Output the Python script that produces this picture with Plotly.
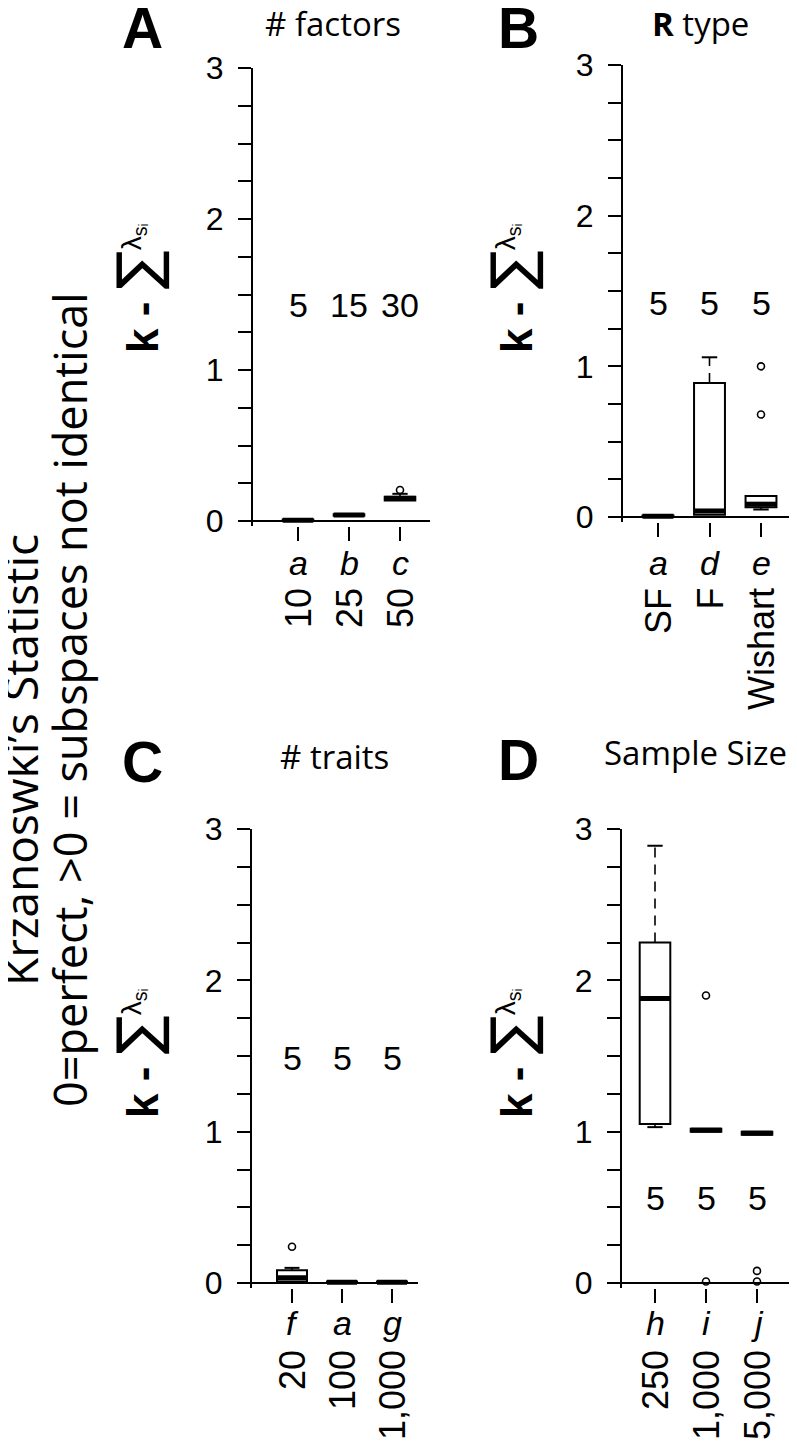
import plotly.graph_objects as go

W, H = 797, 1447
OFF = 8  # page body margin of the html page

# ---- data ----
panel_tags = ["A", "B", "C", "D"]
panel_titles = ["# factors", "<b>R</b> type", "# traits", "Sample Size"]

codes_a = ["a", "b", "c"]
levels_a = ["10", "25", "50"]
n_a = [5, 15, 30]
q1_a = [0.0, 0.035, 0.135]
med_a = [0.005, 0.04, 0.15]
q3_a = [0.01, 0.045, 0.16]
lo_a = [0.0, 0.035, 0.135]
hi_a = [0.01, 0.045, 0.18]
out_x_a = [3]
out_y_a = [0.205]

codes_b = ["a", "d", "e"]
levels_b = ["SF", "F", "Wishart"]
n_b = [5, 5, 5]
q1_b = [0.0, 0.015, 0.065]
med_b = [0.005, 0.04, 0.085]
q3_b = [0.01, 0.89, 0.14]
lo_b = [0.0, 0.015, 0.05]
hi_b = [0.01, 1.06, 0.14]
out_x_b = [3, 3]
out_y_b = [0.68, 1.00]

codes_c = ["f", "a", "g"]
levels_c = ["20", "100", "1,000"]
n_c = [5, 5, 5]
q1_c = [0.01, 0.0, 0.0]
med_c = [0.035, 0.005, 0.005]
q3_c = [0.085, 0.01, 0.01]
lo_c = [0.01, 0.0, 0.0]
hi_c = [0.10, 0.01, 0.01]
out_x_c = [1]
out_y_c = [0.24]

codes_d = ["h", "i", "j"]
levels_d = ["250", "1,000", "5,000"]
n_d = [5, 5, 5]
q1_d = [1.05, 1.0, 0.98]
med_d = [1.88, 1.01, 0.99]
q3_d = [2.25, 1.02, 1.0]
lo_d = [1.03, 1.0, 0.98]
hi_d = [2.89, 1.02, 1.0]
out_x_d = [2, 2, 3, 3]
out_y_d = [1.90, 0.01, 0.08, 0.01]

count_y = [1.43, 1.42, 1.49, 0.56]
y_ticks = [i * 0.25 for i in range(13)]

panels = [
    (codes_a, levels_a, n_a, q1_a, med_a, q3_a, lo_a, hi_a, out_x_a, out_y_a),
    (codes_b, levels_b, n_b, q1_b, med_b, q3_b, lo_b, hi_b, out_x_b, out_y_b),
    (codes_c, levels_c, n_c, q1_c, med_c, q3_c, lo_c, hi_c, out_x_c, out_y_c),
    (codes_d, levels_d, n_d, q1_d, med_d, q3_d, lo_d, hi_d, out_x_d, out_y_d),
]

# ---- layout geometry in screen pixels ----
# y-axis x, right end, first category x, spacing, y=0 px, y=3 px
geom = [
    (253, 430, 298, 51, 521, 68),
    (623, 792, 658, 51.5, 517, 65),
    (252, 418, 292, 50, 1283, 829),
    (622, 790, 655, 51, 1283, 829),
]
tag_pos = [(142, 28), (518, 28), (142, 762), (518, 760)]
title_pos = [(333, 23), (700, 24), (334, 756), (695, 752)]
ylab_pos = [(138, 288), (512, 288), (138, 1053), (512, 1053)]
code_y = [563, 563, 1323, 1323]
level_y = [586, 586, 1348, 1348]

SANS = "Liberation Sans, Arial, sans-serif"
MYR = "Open Sans, Noto Sans, sans-serif"
BW = 0.6


def fx(p):
    return (p - OFF) / W


def fy(p):
    return 1 - (p - OFF) / H


def note(text, x, y, size, family=SANS, angle=0, **kw):
    d = dict(text=text, x=x, y=y, xref="paper", yref="paper", showarrow=False,
             xanchor="center", yanchor="middle", textangle=angle,
             font=dict(family=family, size=size, color="black"))
    d.update(kw)
    return d


fig = go.Figure()
annotations = []
layout_axes = {}

for i, (codes, levels, ns, q1, med, q3, lo, hi, ox, oy) in enumerate(panels):
    s = "" if i == 0 else str(i + 1)
    xa, ya = "x" + s, "y" + s
    cats = [1, 2, 3]

    fig.add_trace(go.Box(
        x=cats, q1=q1, median=med, q3=q3, lowerfence=q1, upperfence=q3,
        width=BW, whiskerwidth=0, fillcolor="white",
        line=dict(color="black", width=2), boxpoints=False,
        xaxis=xa, yaxis=ya, showlegend=False, hoverinfo="skip"))

    # whiskers (dashed) and staples
    wx, wy, cx, cy = [], [], [], []
    for k, c in enumerate(cats):
        if hi[k] > q3[k]:
            wx += [c, c, None]; wy += [q3[k], hi[k], None]
            cx += [c - BW / 4, c + BW / 4, None]; cy += [hi[k], hi[k], None]
        if lo[k] < q1[k]:
            wx += [c, c, None]; wy += [q1[k], lo[k], None]
            cx += [c - BW / 4, c + BW / 4, None]; cy += [lo[k], lo[k], None]
    if wx:
        fig.add_trace(go.Scatter(x=wx, y=wy, mode="lines", xaxis=xa, yaxis=ya,
                                 line=dict(color="black", width=1.6, dash="10px,7px"),
                                 showlegend=False, hoverinfo="skip"))
        fig.add_trace(go.Scatter(x=cx, y=cy, mode="lines", xaxis=xa, yaxis=ya,
                                 line=dict(color="black", width=2),
                                 showlegend=False, hoverinfo="skip"))

    # thick medians
    mx, my = [], []
    for k, c in enumerate(cats):
        mx += [c - BW / 2, c + BW / 2, None]; my += [med[k], med[k], None]
    fig.add_trace(go.Scatter(x=mx, y=my, mode="lines", xaxis=xa, yaxis=ya,
                             line=dict(color="black", width=5),
                             showlegend=False, hoverinfo="skip"))

    fig.add_trace(go.Scatter(x=ox, y=oy, mode="markers", xaxis=xa, yaxis=ya,
                             marker=dict(symbol="circle-open", size=7, color="black",
                                         line=dict(width=1.6, color="black")),
                             cliponaxis=False, showlegend=False, hoverinfo="skip"))

    yx, right, c1, sp, y0, y3 = geom[i]
    xr = [1 - (c1 - yx) / sp, 3 + (right - (c1 + 2 * sp)) / sp]
    pxu = (y0 - y3) / 3
    ymin = -0.03
    bottom = y0 - ymin * pxu
    layout_axes["xaxis" + s] = dict(
        domain=[fx(yx), fx(right)], range=xr, anchor=ya, showline=False,
        showgrid=False, zeroline=False, ticks="outside", tickvals=cats,
        ticklen=14, tickwidth=2, tickcolor="black", showticklabels=False)
    layout_axes["yaxis" + s] = dict(
        domain=[fy(bottom), fy(y3)], range=[ymin, 3], anchor=xa,
        showline=True, linewidth=2, linecolor="black", showgrid=False,
        zeroline=True, zerolinewidth=2, zerolinecolor="black",
        ticks="outside", tickvals=y_ticks,
        ticktext=[str(int(v)) if v == int(v) else "" for v in y_ticks],
        ticklen=13, tickwidth=2, tickcolor="black", ticklabelstandoff=8,
        tickfont=dict(family=SANS, size=32, color="black"))

    tx, ty = tag_pos[i]
    annotations.append(note("<b>%s</b>" % panel_tags[i], fx(tx), fy(ty), 57))
    tx, ty = title_pos[i]
    annotations.append(note(panel_titles[i], fx(tx), fy(ty), 33, MYR))
    tx, ty = ylab_pos[i]
    annotations.append(note(
        "<b>k - </b><span style='font-family:DejaVu Sans;font-size:58px'>∑</span>"
        "<span style='font-size:40px'><sup>λ<sub>sᵢ</sub></sup></span>",
        fx(tx), fy(ty), 44, angle=-90))

    for k, c in enumerate(cats):
        annotations.append(note("<i>%s</i>" % codes[k], c, fy(code_y[i]), 34, xref=xa))
        annotations.append(note(levels[k], c, fy(level_y[i]), 36, angle=-90,
                                xref=xa, yanchor="top"))
        annotations.append(note(str(ns[k]), c, count_y[i], 34, xref=xa, yref=ya))

annotations.append(note("Krzanoswki’s Statistic", fx(20), fy(760), 46, MYR, -90))
annotations.append(note("0=perfect, >0 = subspaces not identical", fx(69), fy(700),
                        45, MYR, -90))

fig.update_layout(
    width=W, height=H, margin=dict(l=0, r=0, t=0, b=0, pad=0, autoexpand=False),
    paper_bgcolor="white", plot_bgcolor="white",
    showlegend=False, annotations=annotations, **layout_axes)

fig.write_html("out.html")
